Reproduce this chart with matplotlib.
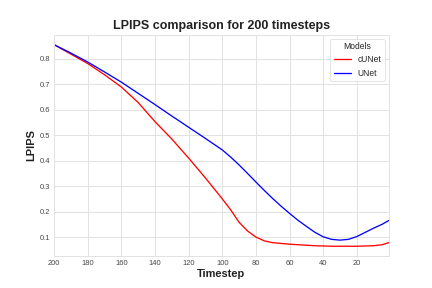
import matplotlib
matplotlib.use("Agg")
import matplotlib.pyplot as plt

# timesteps (descending) and LPIPS values
timesteps = [200, 190, 180, 170, 160, 150, 140, 130, 120, 110, 100, 95, 90,
             85, 80, 75, 70, 65, 60, 55, 50, 45, 40, 35, 30, 25, 20, 10, 5, 1]
cunet = [0.855, 0.818, 0.781, 0.737, 0.689, 0.628, 0.553, 0.485, 0.410, 0.332,
         0.250, 0.207, 0.158, 0.124, 0.100, 0.085, 0.078, 0.075, 0.072, 0.070,
         0.068, 0.066, 0.065, 0.064, 0.064, 0.064, 0.064, 0.066, 0.070, 0.078]
unet = [0.855, 0.822, 0.787, 0.748, 0.708, 0.664, 0.620, 0.575, 0.531, 0.487,
        0.442, 0.414, 0.383, 0.350, 0.316, 0.283, 0.251, 0.221, 0.193, 0.166,
        0.142, 0.119, 0.101, 0.091, 0.088, 0.091, 0.102, 0.135, 0.150, 0.165]
xticks = [200, 180, 160, 140, 120, 100, 80, 60, 40, 20]

plt.style.use("seaborn-v0_8-whitegrid")
fig, ax = plt.subplots(figsize=(6, 4), dpi=72)

ax.plot(timesteps, cunet, color="red", lw=1.3, label="cUNet")
ax.plot(timesteps, unet, color="blue", lw=1.3, label="UNet")

ax.set_xlim(200, 1)
ax.set_xticks(xticks)
ax.grid(color="#e2e2e2", lw=1)
ax.tick_params(labelsize=7.5, colors="#444444")
ax.set_title("LPIPS comparison for 200 timesteps", fontsize=12.5, fontweight="bold", color="#222222")
ax.set_xlabel("Timestep", fontsize=11, fontweight="bold", labelpad=2, color="#222222")
ax.set_ylabel("LPIPS", fontsize=11, fontweight="bold", color="#222222")
for s in ax.spines.values():
    s.set_color("#e2e2e2")
leg = ax.legend(title="Models", loc="upper right", fontsize=8.5, title_fontsize=8.5,
                frameon=True)
leg.get_frame().set_edgecolor("#dddddd")

fig.savefig("out.png", dpi=72)
